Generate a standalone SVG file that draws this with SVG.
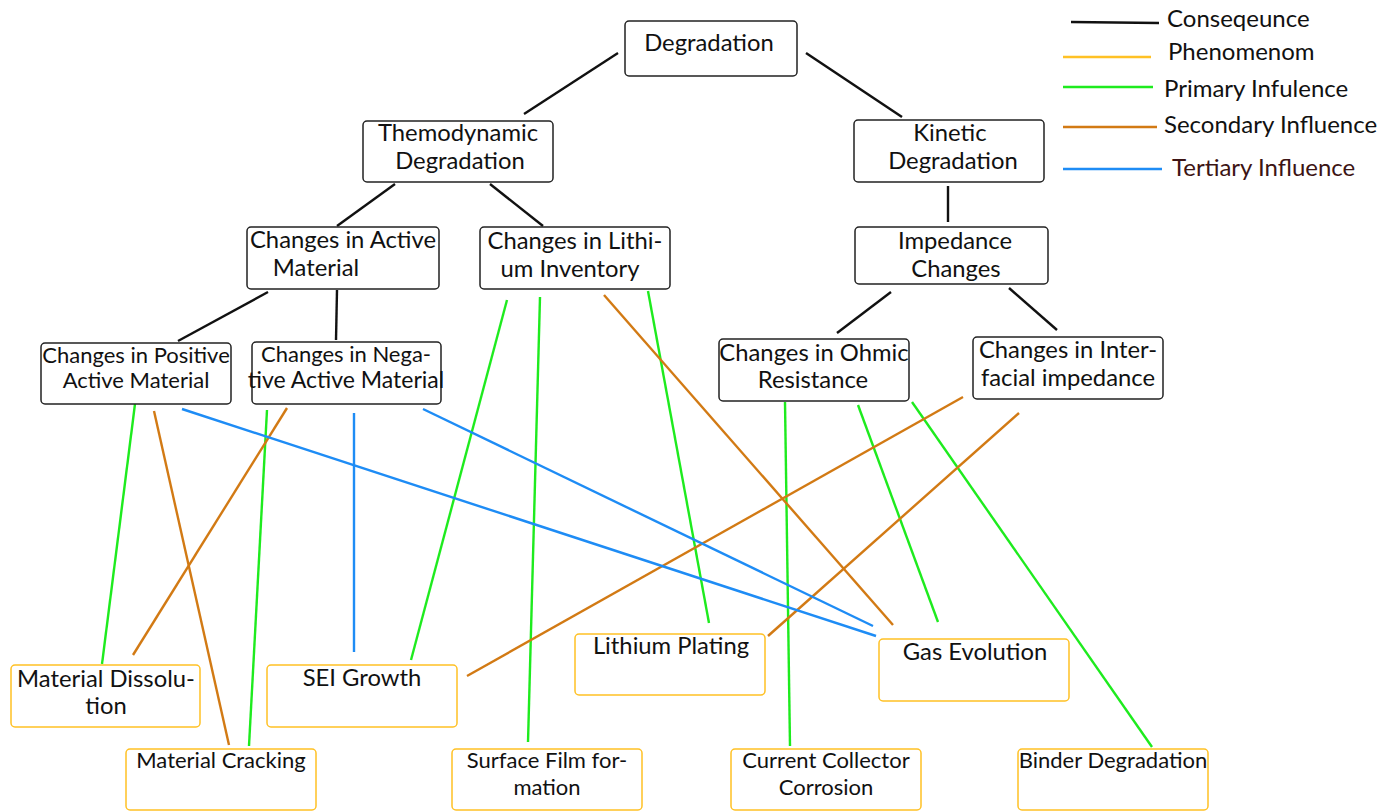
<svg xmlns="http://www.w3.org/2000/svg" width="1395" height="811" viewBox="0 0 1395 811">
  <style>
    .bg { fill: #ffffff; }
    .node rect { fill: #ffffff; stroke: #222222; stroke-width: 1.5; }
    .phen rect { fill: #ffffff; stroke: #FFC125; stroke-width: 1.5; }
    text { font-family: Lato, "Liberation Sans", sans-serif; font-size: 23.8px; fill: #111111; text-anchor: middle; }
    text.sm { font-size: 22px; }
    text.md { font-size: 23px; }
    .legend text { text-anchor: start; font-size: 24px; }
    .c { stroke-width: 2.4; fill: none; stroke-linecap: butt; }
    .k { stroke: #111111; }
    .y { stroke: #FFC125; }
    .g { stroke: #1EEB1E; }
    .o { stroke: #D27A14; }
    .b { stroke: #1E8CF5; }
  </style>
  <rect class="bg" x="0" y="0" width="1395" height="811"/>

  <!-- connectors -->
  <g id="connectors">
    <!-- consequence links -->
    <line class="c k" x1="618" y1="53" x2="524" y2="114"/>
    <line class="c k" x1="806" y1="53" x2="902" y2="117"/>
    <line class="c k" x1="395" y1="184" x2="337" y2="226"/>
    <line class="c k" x1="490" y1="184" x2="543" y2="226"/>
    <line class="c k" x1="948" y1="186" x2="948" y2="222"/>
    <line class="c k" x1="268" y1="292" x2="178" y2="341"/>
    <line class="c k" x1="337" y1="290" x2="336" y2="340"/>
    <line class="c k" x1="891" y1="292" x2="837" y2="333"/>
    <line class="c k" x1="1009" y1="288" x2="1057" y2="330"/>
    <!-- primary influence -->
    <line class="c g" x1="135" y1="404" x2="102" y2="664"/>
    <line class="c g" x1="267" y1="410" x2="249" y2="746"/>
    <line class="c g" x1="507" y1="300" x2="411" y2="660"/>
    <line class="c g" x1="540" y1="297" x2="528" y2="742"/>
    <line class="c g" x1="648" y1="291" x2="709" y2="623"/>
    <line class="c g" x1="785" y1="402" x2="790" y2="746"/>
    <line class="c g" x1="858" y1="405" x2="938" y2="622"/>
    <line class="c g" x1="912" y1="402" x2="1152" y2="747"/>
    <!-- secondary influence -->
    <line class="c o" x1="154" y1="411" x2="229" y2="745"/>
    <line class="c o" x1="287" y1="408" x2="133" y2="655"/>
    <line class="c o" x1="604" y1="295" x2="893" y2="625"/>
    <line class="c o" x1="963" y1="397" x2="467" y2="676"/>
    <line class="c o" x1="1019" y1="413" x2="768" y2="636"/>
    <!-- tertiary influence -->
    <line class="c b" x1="182" y1="409" x2="876" y2="636"/>
    <line class="c b" x1="354" y1="413" x2="354" y2="652"/>
    <line class="c b" x1="423" y1="409" x2="873" y2="626"/>
  </g>

  <!-- consequence nodes -->
  <g id="degradation" class="node">
    <rect x="625" y="21" width="172" height="55" rx="4"/>
    <text x="709" y="51">Degradation</text>
  </g>
  <g id="thermodynamic" class="node">
    <rect x="363" y="121" width="190" height="61" rx="4"/>
    <text x="458" y="141">Themodynamic</text>
    <text x="460" y="169">Degradation</text>
  </g>
  <g id="kinetic" class="node">
    <rect x="854" y="120" width="190" height="62" rx="4"/>
    <text x="950" y="141">Kinetic</text>
    <text x="953" y="169">Degradation</text>
  </g>
  <g id="active-material" class="node">
    <rect x="247" y="227" width="192" height="62" rx="4"/>
    <text x="343" y="248">Changes in Active</text>
    <text x="316" y="276">Material</text>
  </g>
  <g id="lithium-inventory" class="node">
    <rect x="480" y="227" width="190" height="62" rx="4"/>
    <text x="575" y="249">Changes in Lithi-</text>
    <text x="570" y="277">um Inventory</text>
  </g>
  <g id="impedance" class="node">
    <rect x="855" y="227" width="193" height="57" rx="4"/>
    <text x="955" y="249">Impedance</text>
    <text x="956" y="277">Changes</text>
  </g>
  <g id="positive" class="node">
    <rect x="41" y="343" width="190" height="61" rx="4"/>
    <text class="sm" x="136" y="363">Changes in Positive</text>
    <text class="sm" x="136" y="388">Active Material</text>
  </g>
  <g id="negative" class="node">
    <rect x="252" y="342" width="189" height="62" rx="4"/>
    <text class="sm" x="346" y="362">Changes in Nega-</text>
    <text class="md" x="346" y="388">tive Active Material</text>
  </g>
  <g id="ohmic" class="node">
    <rect x="719" y="339" width="190" height="62" rx="4"/>
    <text x="814" y="361">Changes in Ohmic</text>
    <text x="813" y="388">Resistance</text>
  </g>
  <g id="interfacial" class="node">
    <rect x="973" y="337" width="190" height="62" rx="4"/>
    <text x="1068" y="358">Changes in Inter-</text>
    <text x="1068" y="386">facial impedance</text>
  </g>

  <!-- phenomena -->
  <g id="dissolution" class="phen">
    <rect x="11" y="665" width="189" height="62" rx="4"/>
    <text x="106" y="687">Material Dissolu-</text>
    <text x="106" y="714">tion</text>
  </g>
  <g id="cracking" class="phen">
    <rect x="126" y="749" width="190" height="61" rx="4"/>
    <text class="sm" x="221" y="768">Material Cracking</text>
  </g>
  <g id="sei" class="phen">
    <rect x="267" y="665" width="190" height="62" rx="4"/>
    <text x="362" y="686">SEI Growth</text>
  </g>
  <g id="plating" class="phen">
    <rect x="575" y="634" width="190" height="61" rx="4"/>
    <text x="671" y="654">Lithium Plating</text>
  </g>
  <g id="gas" class="phen">
    <rect x="879" y="639" width="190" height="62" rx="4"/>
    <text x="975" y="660">Gas Evolution</text>
  </g>
  <g id="surface-film" class="phen">
    <rect x="452" y="749" width="190" height="61" rx="4"/>
    <text class="sm" x="547" y="768">Surface Film for-</text>
    <text class="sm" x="547" y="795">mation</text>
  </g>
  <g id="collector" class="phen">
    <rect x="731" y="749" width="190" height="61" rx="4"/>
    <text class="sm" x="826" y="768">Current Collector</text>
    <text class="sm" x="826" y="795">Corrosion</text>
  </g>
  <g id="binder" class="phen">
    <rect x="1018" y="749" width="190" height="61" rx="4"/>
    <text class="sm" x="1113" y="768">Binder Degradation</text>
  </g>

  <!-- legend -->
  <g id="legend" class="legend">
    <line class="c k" x1="1071" y1="22" x2="1159" y2="23"/>
    <text x="1167" y="27">Conseqeunce</text>
    <line class="c y" x1="1063" y1="57" x2="1151" y2="57"/>
    <text x="1168" y="60">Phenomenom</text>
    <line class="c g" x1="1063" y1="87" x2="1153" y2="87"/>
    <text x="1164" y="97">Primary Infulence</text>
    <line class="c o" x1="1063" y1="127" x2="1157" y2="127"/>
    <text x="1164" y="133">Secondary Influence</text>
    <line class="c b" x1="1063" y1="169" x2="1162" y2="169"/>
    <text x="1172" y="176" style="fill:#3C1414">Tertiary Influence</text>
  </g>
</svg>
